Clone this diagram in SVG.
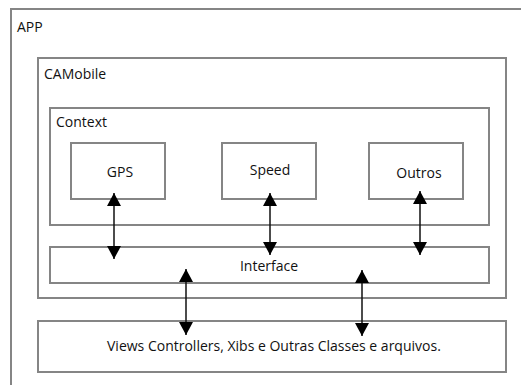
<svg xmlns="http://www.w3.org/2000/svg" width="521" height="385" viewBox="0 0 521 385">
<defs>
<style>
.box{fill:none;stroke:#858585;stroke-width:2}
.lbl{font-family:"Open Sans","Noto Sans",sans-serif;font-size:14px;fill:#111}
.c{text-anchor:middle}
.con{stroke:#111;stroke-width:1.5;fill:none;marker-start:url(#ah);marker-end:url(#ah)}
</style>
<marker id="ah" viewBox="0 0 13 14" markerWidth="13" markerHeight="14" refX="13" refY="7" markerUnits="userSpaceOnUse" orient="auto-start-reverse">
<path d="M0,0 L13,7 L0,14 z" fill="#000"/>
</marker>
</defs>
<rect width="521" height="385" fill="#fff"/>
<g id="app"><rect class="box" x="11" y="9" width="530" height="400"/><text class="lbl" x="17" y="32">APP</text></g>
<g id="camobile"><rect class="box" x="38" y="58" width="468" height="240"/><text class="lbl" x="44" y="79">CAMobile</text></g>
<g id="context"><rect class="box" x="50" y="108" width="439" height="117"/><text class="lbl" x="56" y="127">Context</text></g>
<g id="gps"><rect class="box" x="71" y="143" width="94" height="56"/><text class="lbl c" x="120" y="177">GPS</text></g>
<g id="speed"><rect class="box" x="222" y="143" width="94" height="56"/><text class="lbl c" x="270" y="175">Speed</text></g>
<g id="outros"><rect class="box" x="369" y="143" width="94" height="56"/><text class="lbl c" x="419" y="178">Outros</text></g>
<g id="interface"><rect class="box" x="50" y="247" width="439" height="36"/><text class="lbl c" x="269" y="271">Interface</text></g>
<g id="views"><rect class="box" x="38" y="321" width="468" height="51"/><text class="lbl" x="107" y="351">Views Controllers, Xibs e Outras Classes e arquivos.</text></g>
<g id="connectors">
<line class="con" x1="114" y1="193" x2="114" y2="259"/>
<line class="con" x1="270" y1="193" x2="270" y2="255"/>
<line class="con" x1="420" y1="191" x2="420" y2="255"/>
<line class="con" x1="186" y1="269" x2="186" y2="335"/>
<line class="con" x1="362" y1="270" x2="362" y2="336"/>
</g>
</svg>
